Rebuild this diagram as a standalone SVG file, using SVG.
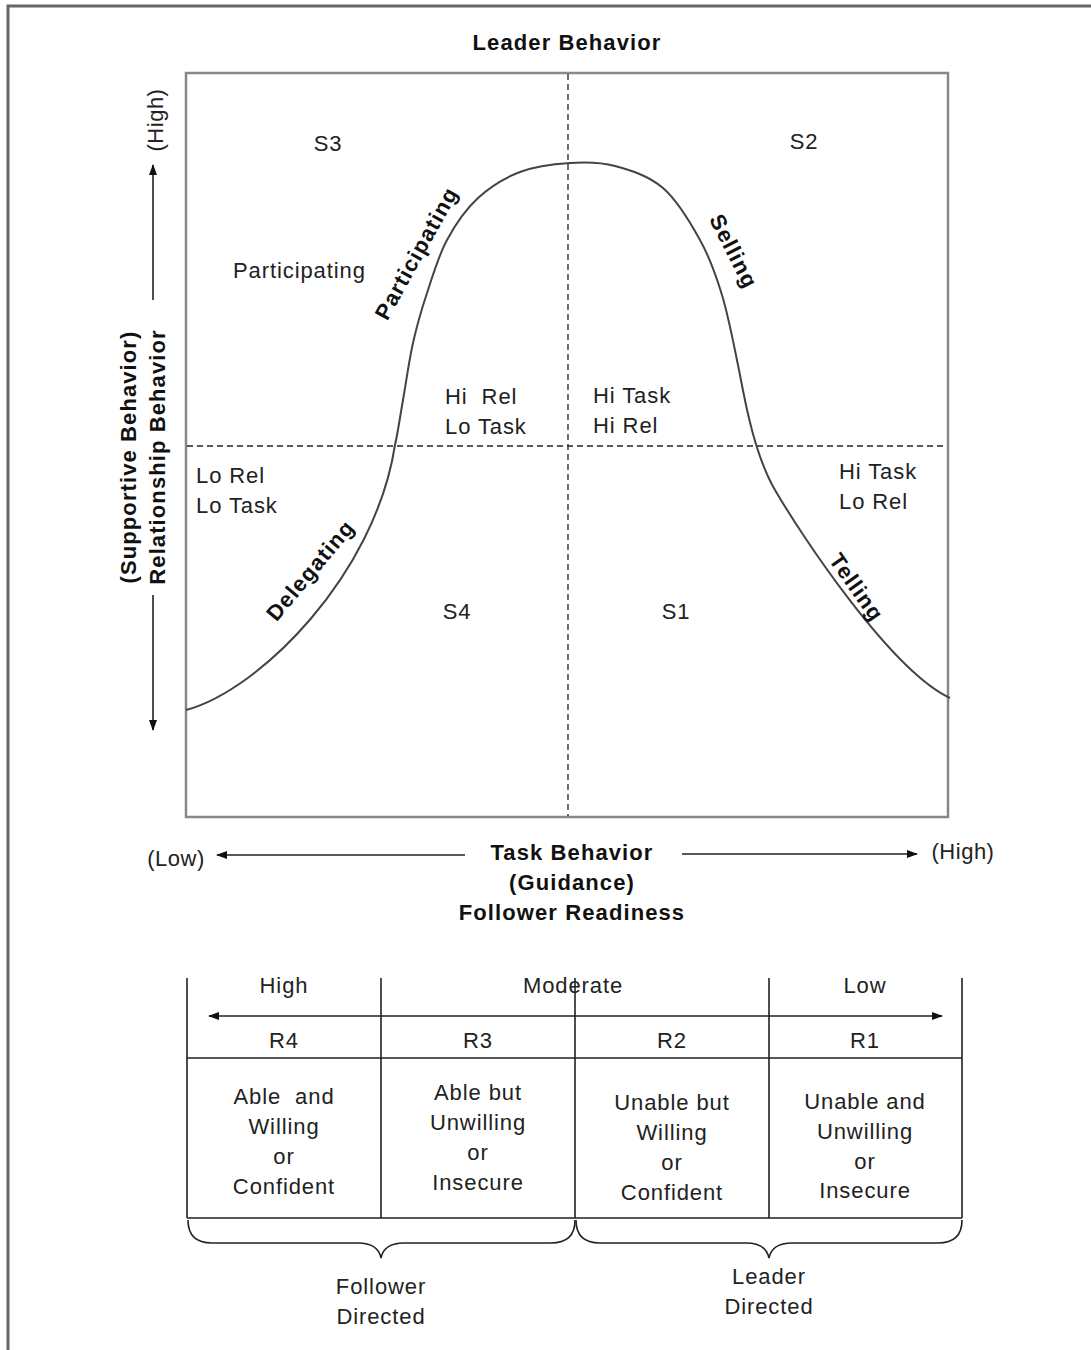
<svg xmlns="http://www.w3.org/2000/svg" width="1091" height="1350" viewBox="0 0 1091 1350">
<style>
.t{font-family:"Liberation Sans",Arial,sans-serif;font-size:22px;fill:#222;letter-spacing:0.9px}
.b{font-family:"Liberation Sans",Arial,sans-serif;font-size:22px;font-weight:bold;fill:#111;letter-spacing:1.1px}
.m{text-anchor:middle}
.ln{stroke:#222;stroke-width:1.6;fill:none}
.dash{stroke:#222;stroke-width:1.3;stroke-dasharray:6,4;fill:none}
</style>
<defs>
<marker id="ah" viewBox="0 0 11 8" refX="10" refY="4" markerWidth="11" markerHeight="8" markerUnits="userSpaceOnUse" orient="auto-start-reverse">
<path d="M0,0 L11,4 L0,8 z" fill="#111"/>
</marker>
</defs>
<rect width="1091" height="1350" fill="#fff"/>
<g id="frame">
<path d="M8,1350 L8,6 L1091,6" stroke="#666" stroke-width="3" fill="none"/>
</g>
<g id="title"><text class="b m" x="567" y="50">Leader Behavior</text></g>
<g id="chart">
<rect x="186" y="73" width="762" height="744" fill="none" stroke="#888" stroke-width="2.5"/>
<line class="dash" x1="568" y1="74" x2="568" y2="816"/>
<line class="dash" x1="187" y1="446" x2="947" y2="446"/>
<path id="curve" d="M186,710 C260,690 375,575 395,445 C398.3,430 400,417 403,400 C406,383 409,360.8 413,343 C417,325.2 421.3,310.2 427,293 C432.7,275.8 438.5,255.8 447,240 C455.5,224.2 465.8,209.3 478,198 C490.2,186.7 504.7,177.8 520,172 C535.3,166.2 554.2,164 570,163 C585.8,162 599.5,161.8 615,166 C630.5,170.2 648.8,175.7 663,188 C677.2,200.3 690.2,222.2 700,240 C709.8,257.8 715.7,274.2 722,295 C728.3,315.8 733,340.8 738,365 C743,389 752,450 775,490 C800,533 890,670 950,698" stroke="#444" stroke-width="2" fill="none"/>
</g>
<g id="quadrant-labels">
<text class="t m" x="328" y="151">S3</text>
<text class="t m" x="804" y="149">S2</text>
<text class="t" x="233" y="278">Participating</text>
<text class="t" x="445" y="404" xml:space="preserve">Hi  Rel</text>
<text class="t" x="445" y="434">Lo Task</text>
<text class="t" x="593" y="403">Hi Task</text>
<text class="t" x="593" y="433">Hi Rel</text>
<text class="t" x="196" y="483">Lo Rel</text>
<text class="t" x="196" y="513">Lo Task</text>
<text class="t" x="839" y="479">Hi Task</text>
<text class="t" x="839" y="509">Lo Rel</text>
<text class="t m" x="457" y="619">S4</text>
<text class="t m" x="676" y="619">S1</text>
</g>
<g id="curve-labels">
<text class="b m" transform="translate(416,253) rotate(-61)" y="8">Participating</text>
<text class="b m" transform="translate(734,251) rotate(63)" y="8">Selling</text>
<text class="b m" transform="translate(310,570) rotate(-50)" y="8">Delegating</text>
<text class="b m" transform="translate(857,587) rotate(55)" y="8">Telling</text>
</g>
<g id="y-axis">
<text class="t m" transform="translate(163,120) rotate(-90)" style="letter-spacing:0.5px">(High)</text>
<text class="b m" transform="translate(136,457) rotate(-90)">(Supportive Behavior)</text>
<text class="b m" transform="translate(165,457) rotate(-90)">Relationship Behavior</text>
</g>
<g id="x-axis">
<text class="t m" x="176" y="866" style="letter-spacing:0.5px">(Low)</text>
<text class="t m" x="963" y="859" style="letter-spacing:0.5px">(High)</text>
<text class="b m" x="572" y="860">Task Behavior</text>
<text class="b m" x="572" y="890">(Guidance)</text>
<text class="b m" x="572" y="920">Follower Readiness</text>
</g>
<g id="connectors">
<line class="ln" x1="153" y1="300" x2="153" y2="165" marker-end="url(#ah)"/>
<line class="ln" x1="153" y1="595" x2="153" y2="730" marker-end="url(#ah)"/>
<line class="ln" x1="465" y1="855" x2="217" y2="855" marker-end="url(#ah)"/>
<line class="ln" x1="682" y1="854" x2="917" y2="854" marker-end="url(#ah)"/>
<line class="ln" x1="209" y1="1016" x2="942" y2="1016" marker-start="url(#ah)" marker-end="url(#ah)"/>
</g>
<g id="readiness-table">
<path class="ln" d="M187,978 V1218 M381,978 V1218 M575,978 V1218 M769,978 V1218 M962,978 V1218 M187,1058 H962 M187,1218 H962" stroke-width="2"/>
<text class="t m" x="284" y="993">High</text>
<text class="t m" x="573" y="993">Moderate</text>
<text class="t m" x="865" y="993">Low</text>
<text class="t m" x="284" y="1048">R4</text>
<text class="t m" x="478" y="1048">R3</text>
<text class="t m" x="672" y="1048">R2</text>
<text class="t m" x="865" y="1048">R1</text>
</g>
<g id="cell-r4">
<text class="t m" x="284" y="1104" xml:space="preserve">Able  and</text>
<text class="t m" x="284" y="1134">Willing</text>
<text class="t m" x="284" y="1164">or</text>
<text class="t m" x="284" y="1194">Confident</text>
</g>
<g id="cell-r3">
<text class="t m" x="478" y="1100">Able but</text>
<text class="t m" x="478" y="1130">Unwilling</text>
<text class="t m" x="478" y="1160">or</text>
<text class="t m" x="478" y="1190">Insecure</text>
</g>
<g id="cell-r2">
<text class="t m" x="672" y="1110">Unable but</text>
<text class="t m" x="672" y="1140">Willing</text>
<text class="t m" x="672" y="1170">or</text>
<text class="t m" x="672" y="1200">Confident</text>
</g>
<g id="cell-r1">
<text class="t m" x="865" y="1109">Unable and</text>
<text class="t m" x="865" y="1139">Unwilling</text>
<text class="t m" x="865" y="1169">or</text>
<text class="t m" x="865" y="1198">Insecure</text>
</g>
<g id="braces">
<path class="ln" d="M188,1220 Q188,1243 212,1243 L358,1243 Q378,1243 381,1258 Q384,1243 404,1243 L551,1243 Q575,1243 575,1220"/>
<path class="ln" d="M576,1220 Q576,1243 600,1243 L746,1243 Q766,1243 769,1258 Q772,1243 792,1243 L938,1243 Q962,1243 962,1220"/>
</g>
<g id="brace-labels">
<text class="t m" x="381" y="1294">Follower</text>
<text class="t m" x="381" y="1324">Directed</text>
<text class="t m" x="769" y="1284">Leader</text>
<text class="t m" x="769" y="1314">Directed</text>
</g>
</svg>
